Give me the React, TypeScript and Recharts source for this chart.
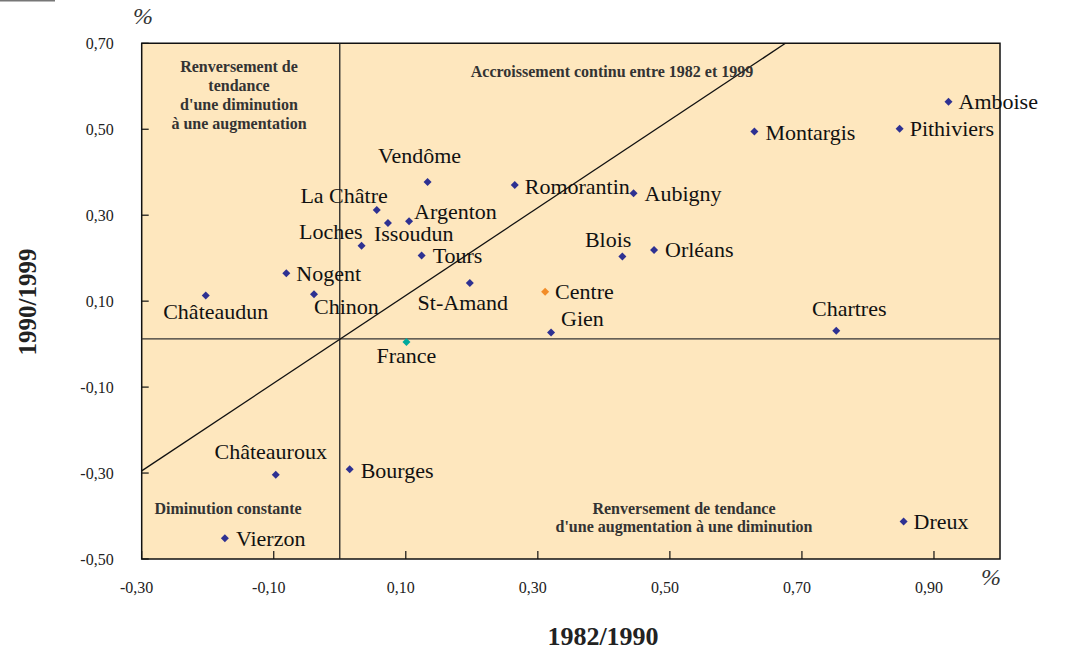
import React from 'react';
import { ScatterChart, Scatter, XAxis, YAxis, ReferenceArea, ReferenceLine } from 'recharts';

// communes: growth 1982/1990 (x) vs 1990/1999 (y), in %
const towns = [
  'Amboise', 'Pithiviers', 'Montargis', 'Aubigny', 'Orléans', 'Romorantin', 'Vendôme',
  'La Châtre', 'Argenton', 'Issoudun', 'Loches', 'Tours', 'Nogent', 'Chinon',
  'Châteaudun', 'St-Amand', 'Gien', 'Blois', 'Chartres', 'Châteauroux', 'Bourges',
  'Vierzon', 'Dreux',
];
const townX = [
  0.922, 0.848, 0.628, 0.445, 0.476, 0.265, 0.133,
  0.056, 0.105, 0.073, 0.033, 0.124, -0.081, -0.039,
  -0.203, 0.197, 0.320, 0.428, 0.752, -0.097, 0.015,
  -0.174, 0.854,
];
const townY = [
  0.564, 0.501, 0.495, 0.351, 0.219, 0.370, 0.377,
  0.312, 0.286, 0.282, 0.229, 0.206, 0.165, 0.116,
  0.113, 0.142, 0.027, 0.204, 0.031, -0.304, -0.291,
  -0.452, -0.413,
];
const centre = { name: 'Centre', x: 0.311, y: 0.122 };
const france = { name: 'France', x: 0.101, y: 0.005 };

const xTicks = [-0.3, -0.1, 0.1, 0.3, 0.5, 0.7, 0.9];
const yTicks = [-0.5, -0.3, -0.1, 0.1, 0.3, 0.5, 0.7];
const crossX = 0;
const crossY = 0.012;
const diagonal = [{ x: -0.3, y: -0.295 }, { x: 0.675, y: 0.7 }];

const townData = towns.map((name, i) => ({ name, x: townX[i], y: townY[i] }));

// label placement around each marker: anchor, dx, dy (vertical centre)
const placement: Record<string, [string, number, number]> = {
  Amboise: ['start', 10, 0],
  Pithiviers: ['start', 10, 0],
  Montargis: ['start', 11, 1],
  Aubigny: ['start', 11, 0],
  'Orléans': ['start', 11, -1],
  Romorantin: ['start', 10, 1],
  'Vendôme': ['middle', -8, -27],
  'La Châtre': ['end', 11, -15],
  Argenton: ['start', 5, -10],
  Issoudun: ['start', -14, 11],
  Loches: ['end', 1, -14],
  Tours: ['start', 11, 0],
  Nogent: ['start', 10, 0],
  Chinon: ['start', 0, 12],
  'Châteaudun': ['middle', 10, 16],
  'St-Amand': ['middle', -7, 19],
  Centre: ['start', 10, 0],
  Gien: ['start', 10, -14],
  Blois: ['end', 9, -17],
  Chartres: ['middle', 13, -22],
  France: ['middle', 0, 14],
  'Châteauroux': ['middle', -5, -23],
  Bourges: ['start', 11, 1],
  Vierzon: ['start', 11, 0],
  Dreux: ['start', 10, 0],
};

const serif = '"Liberation Serif", "Times New Roman", serif';
const fmt = (v: number) => v.toFixed(2).replace('.', ',');

const makeShape = (color: string) => (props: any) => {
  const { cx, cy, payload } = props;
  const p = placement[payload.name] || ['start', 10, 0];
  return (
    <g>
      <path d={`M${cx},${cy - 4}L${cx + 4},${cy}L${cx},${cy + 4}L${cx - 4},${cy}Z`} fill={color} />
      <text
        x={cx + p[1]}
        y={cy + p[2]}
        textAnchor={p[0] as any}
        dominantBaseline="central"
        fontFamily={serif}
        fontSize={22}
        fill="#111"
      >
        {payload.name}
      </text>
    </g>
  );
};

const YTick = (props: any) => {
  const { x, y, payload } = props;
  return (
    <g>
      <line x1={x} x2={x + 7} y1={y} y2={y} stroke="#111" strokeWidth={1.2} />
      <text x={x - 28} y={y} textAnchor="end" dominantBaseline="central" fontFamily={serif} fontSize={16} fill="#222">
        {fmt(payload.value)}
      </text>
    </g>
  );
};

const XTick = (props: any) => {
  const { x, y, payload } = props;
  return (
    <g>
      <line x1={x} x2={x} y1={y} y2={y - 8} stroke="#111" strokeWidth={1.2} />
      <text x={x - 5} y={y + 28} textAnchor="middle" dominantBaseline="central" fontFamily={serif} fontSize={16} fill="#222">
        {fmt(payload.value)}
      </text>
    </g>
  );
};

const note = { fontFamily: serif, fontSize: 16, fontWeight: 700, fill: '#333' } as const;

export default function App() {
  return (
    <div style={{ position: 'relative', width: 1066, height: 652 }}>
      <style>{'body{margin:0}'}</style>
      <ScatterChart width={1066} height={652} margin={{ top: 43.3, left: 140.7, right: 66, bottom: 92 }}>
        <XAxis
          type="number"
          dataKey="x"
          domain={[-0.3, 1.0]}
          ticks={xTicks}
          interval={0}
          height={1}
          tickSize={0}
          tickMargin={0}
          axisLine={false}
          tickLine={false}
          tick={<XTick />}
        />
        <YAxis
          type="number"
          dataKey="y"
          domain={[-0.5, 0.7]}
          ticks={yTicks}
          interval={0}
          width={1}
          tickSize={0}
          tickMargin={0}
          axisLine={false}
          tickLine={false}
          tick={<YTick />}
        />
        <ReferenceArea x1={-0.3} x2={1.0} y1={-0.5} y2={0.7} fill="#FEE7BE" fillOpacity={1} stroke="#111" strokeWidth={1.5} />
        <ReferenceLine x={crossX} stroke="#222" strokeWidth={1.3} />
        <ReferenceLine y={crossY} stroke="#333" strokeWidth={1.3} />
        <ReferenceLine segment={diagonal} stroke="#111" strokeWidth={1.3} />
        <Scatter data={townData} fill="#2E3192" shape={makeShape('#2E3192')} isAnimationActive={false} />
        <Scatter data={[centre]} fill="#F28C28" shape={makeShape('#F28C28')} isAnimationActive={false} />
        <Scatter data={[france]} fill="#00A99D" shape={makeShape('#00A99D')} isAnimationActive={false} />
      </ScatterChart>
      <svg width={1066} height={652} style={{ position: 'absolute', left: 0, top: 0, pointerEvents: 'none' }}>
        <line x1={0} x2={55} y1={0.5} y2={0.5} stroke="#777" strokeWidth={2} />
        <text x={143} y={16} textAnchor="middle" dominantBaseline="central" fontFamily={serif} fontStyle="italic" fontSize={24} fill="#333">%</text>
        <text x={991} y={577} textAnchor="middle" dominantBaseline="central" fontFamily={serif} fontStyle="italic" fontSize={24} fill="#333">%</text>
        <text
          x={27}
          y={302}
          transform="rotate(-90 27 302)"
          textAnchor="middle"
          dominantBaseline="central"
          fontFamily={serif}
          fontWeight={700}
          fontSize={25}
          fill="#222"
        >
          1990/1999
        </text>
        <text x={603} y={636} textAnchor="middle" dominantBaseline="central" fontFamily={serif} fontWeight={700} fontSize={26} fill="#222">
          1982/1990
        </text>
        <text x={239} y={66} textAnchor="middle" dominantBaseline="central" {...note}>Renversement de</text>
        <text x={239} y={85} textAnchor="middle" dominantBaseline="central" {...note}>tendance</text>
        <text x={239} y={104} textAnchor="middle" dominantBaseline="central" {...note}>d'une diminution</text>
        <text x={239} y={123} textAnchor="middle" dominantBaseline="central" {...note}>à une augmentation</text>
        <text x={612} y={71} textAnchor="middle" dominantBaseline="central" {...note}>Accroissement continu entre 1982 et 1999</text>
        <text x={228} y={508} textAnchor="middle" dominantBaseline="central" {...note}>Diminution constante</text>
        <text x={684} y={508} textAnchor="middle" dominantBaseline="central" {...note}>Renversement de tendance</text>
        <text x={684} y={526} textAnchor="middle" dominantBaseline="central" {...note}>d'une augmentation à une diminution</text>
      </svg>
    </div>
  );
}
